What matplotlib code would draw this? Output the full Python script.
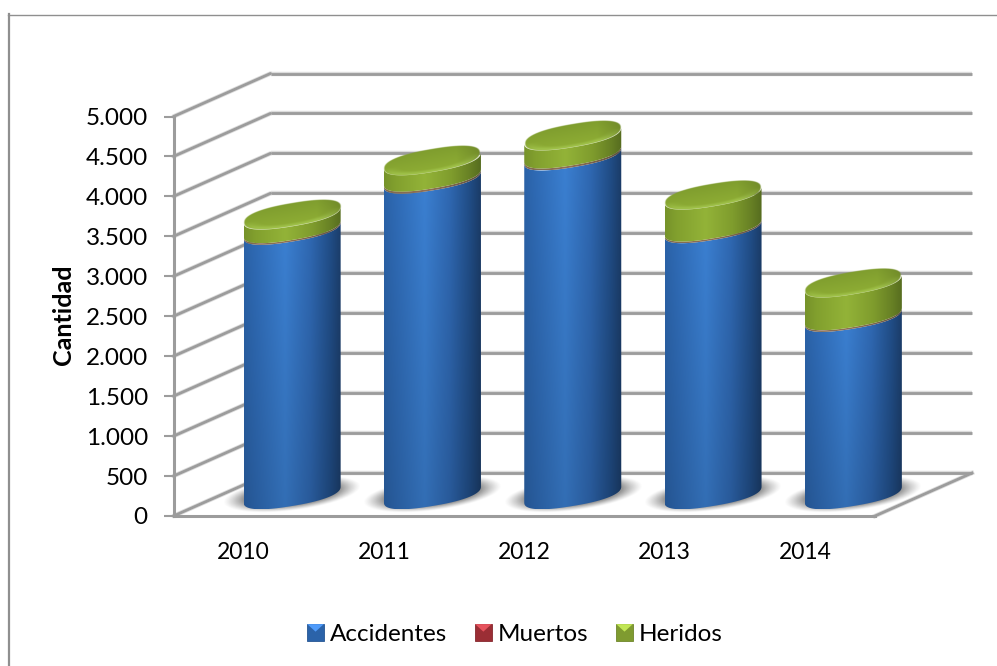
import numpy as np
import matplotlib
matplotlib.use("Agg")
import matplotlib.pyplot as plt
from matplotlib.patches import Polygon, Rectangle, Patch
from matplotlib.colors import LinearSegmentedColormap as LSC, to_rgb
from matplotlib.legend_handler import HandlerBase
from matplotlib.ticker import FuncFormatter, MultipleLocator

# ---- data ----
years = ["2010", "2011", "2012", "2013", "2014"]
accidentes = [3310, 3950, 4240, 3330, 2220]
muertos = [20, 25, 25, 20, 20]
heridos = [170, 205, 225, 400, 410]
series_names = ["Accidentes", "Muertos", "Heridos"]

# ---- style ----
FONT = "Lato"
W, H = 997, 666
GRID = "#9c9c9c"
BLUE = "#2f6cb8"; RED = "#a8323a"; GREEN = "#8aa834"

fig = plt.figure(figsize=(W / 100, H / 100), dpi=100, facecolor="white")
L, R_, T, B = 173.5, 875, 116.5, 516
ax = fig.add_axes([L / W, 1 - B / H, (R_ - L) / W, (B - T) / H], facecolor="none")
XMIN, XMAX, YMAX = -0.5, 4.5, 5000
PX = 5 / (R_ - L)            # category units per pixel
PY = YMAX / (B - T)          # value units per pixel
DX, DY = 97 * PX, 43 * PY    # depth offset of the 3D box

# chart frame (left and top only are visible)
fig.add_artist(plt.Line2D([8.5 / W, 8.5 / W], [0, 1 - 14 / H], color="#8f8f8f", lw=1.6))
fig.add_artist(plt.Line2D([8 / W, 1], [1 - 14.5 / H] * 2, color="#8f8f8f", lw=1.0))

# walls
levels = np.arange(0, YMAX + 1, 500)
for col, lw, z in (("#dcdcdc", 3.2, 1), (GRID, 2.0, 2)):
    for v in levels:
        ax.plot([XMIN + DX, XMAX + DX], [v + DY, v + DY], color=col, lw=lw, clip_on=False,
                solid_capstyle="butt", zorder=z)
        ax.plot([XMIN, XMIN + DX], [v, v + DY], color=col, lw=lw, clip_on=False,
                solid_capstyle="round", zorder=z)
    ax.plot([XMAX, XMAX + DX], [0, DY], color=col, lw=lw, clip_on=False, zorder=z)


def stops(*pairs):
    return LSC.from_list("c", list(pairs))


blue_cm = stops((0, "#2b63a9"), (.12, "#2f6bb6"), (.42, "#3b80d2"), (.68, "#2f68b2"),
                (.88, "#214e88"), (1, "#1b3c68"))
red_cm = stops((0, "#806a50"), (.45, "#8f6f55"), (1, "#5f5040"))
green_cm = stops((0, "#76932a"), (.12, "#82a02e"), (.42, "#93b338"), (.7, "#7f9c2d"),
                 (.9, "#667f24"), (1, "#566c1f"))

A, SX, SY = 48.5, 8.0, 11.5   # ellipse: half width, tilt, half depth (pixels)
NS = 2.4                      # slightly blunt ends, like the reference
ts = np.linspace(np.pi, 2 * np.pi, 120)


def rim(c, v):
    """front half of the cylinder's outline at value v, left to right"""
    cx = np.sign(np.cos(ts)) * np.abs(np.cos(ts)) ** (2 / NS)
    sx = np.sign(np.sin(ts)) * np.abs(np.sin(ts)) ** (2 / NS)
    return c + A * PX * cx, v + (SX * cx + SY * sx) * PY


def side(c, v0, v1, cmap, z, shade):
    x0, y0 = rim(c, v0)
    x1, y1 = rim(c, v1)
    poly = Polygon(np.column_stack([np.r_[x0, x1[::-1]], np.r_[y0, y1[::-1]]]),
                   closed=True, transform=ax.transData, fc="none", ec="none", clip_on=False)
    ax.add_patch(poly)
    u = np.linspace(0, 1, 200)
    rows = 60
    img = cmap(u)[None, :, :3].repeat(rows, axis=0)
    f = np.linspace(shade[0], shade[1], rows)[:, None, None]   # top row first
    img = np.clip(img * f, 0, 1)
    ymin, ymax = y0.min(), y1.max()
    im = ax.imshow(img, extent=[c - A * PX, c + A * PX, ymin, ymax], origin="upper",
                   aspect="auto", zorder=z, interpolation="bilinear")
    im.set_clip_box(fig.bbox)
    im.set_clip_path(poly)


def top_cap(c, v, z):
    n = 260
    xs = np.linspace(-A - 1.5, A + 1.5, n)
    ys = np.linspace(-24, 24, n)
    gx, gy = np.meshgrid(xs, ys)          # gy > 0 is up
    p = gx / A
    s = (gy - SX * p) / SY
    r = (np.abs(p) ** NS + np.abs(s) ** NS) ** (1 / NS)
    base0 = np.array(to_rgb("#7f9d2e"))
    base1 = np.array(to_rgb("#8fae35"))
    t = np.clip((1 - s) / 2, 0, 1)[..., None]
    rgb = base0 * (1 - t) + base1 * t
    # soft bright bevel along the front edge, darker towards the right
    bev = np.clip(1 - np.abs(r - 0.9) / 0.22, 0, 1) * np.clip(-s * 1.5, 0, 1) * .7
    rgb = rgb + bev[..., None] * (np.array([.66, .80, .33]) - rgb)
    dark = np.clip((p - .5) / .5, 0, 1)[..., None] * .15
    rgb = rgb * (1 - dark)
    alpha = np.clip((1 - r) * A / 1.2, 0, 1)
    img = np.dstack([rgb, alpha])
    ax.imshow(img, extent=[c + xs[0] * PX, c + xs[-1] * PX, v + ys[0] * PY, v + ys[-1] * PY],
              origin="lower", aspect="auto", zorder=z, interpolation="bilinear", clip_on=False)


def shadow(c, v, z):
    n = 200
    xs = np.linspace(-85, 85, n)
    ys = np.linspace(-30, 30, n)
    gx, gy = np.meshgrid(xs, ys)
    p = gx / (A * 1.42)
    s = (gy - SX * p) / (SY * 1.45)
    r = np.hypot(p, s)
    alpha = np.clip((1 - r) / .3, 0, 1) ** 1.2 * .68
    img = np.dstack([np.full_like(alpha, .38)] * 3 + [alpha])
    ax.imshow(img, extent=[c + xs[0] * PX, c + xs[-1] * PX, v + ys[0] * PY, v + ys[-1] * PY],
              origin="lower", aspect="auto", zorder=z, interpolation="bilinear", clip_on=False)


for i in range(len(years)):
    c = i + DX / 2
    base = DY / 2
    a, m, h = accidentes[i], muertos[i], heridos[i]
    shadow(c, base, 5)
    side(c, base, base + a, blue_cm, 6, (1.0, .86))
    side(c, base + a, base + a + m, red_cm, 7, (1, 1))
    side(c, base + a + m, base + a + m + h, green_cm, 8, (1.0, 1.0))
    top_cap(c, base + a + m + h, 9)

ax.set_xlim(XMIN, XMAX)
ax.set_ylim(0, YMAX)

# axes
for s_ in ("top", "right"):
    ax.spines[s_].set_visible(False)
for s_ in ("left", "bottom"):
    ax.spines[s_].set_color(GRID)
    ax.spines[s_].set_linewidth(2.2)
    ax.spines[s_].set_zorder(3)
ax.set_xticks(range(len(years)), years, fontsize=16.5, family=FONT, color="black")
ax.yaxis.set_major_locator(MultipleLocator(500))
ax.yaxis.set_major_formatter(FuncFormatter(lambda v, _: f"{int(v):,}".replace(",", ".")))
ax.tick_params(axis="x", length=0, pad=19)
ax.tick_params(axis="y", length=7, width=1.5, color=GRID, pad=11.5, labelsize=17.5,
               labelfontfamily=FONT)
ax.set_ylabel("Cantidad", fontsize=18, family=FONT, fontweight="bold", labelpad=0)
ax.yaxis.set_label_coords((75 - L) / (R_ - L), (B - 315) / (B - T))


# legend with the glossy little keys of the reference
class GlossKey(HandlerBase):
    def create_artists(self, legend, orig, xd, yd, width, height, fontsize, trans):
        col = np.array(orig.get_facecolor()[:3])
        sq = Rectangle((-xd, -yd), width, height, fc=col * .92, ec=col * .8, lw=.6, transform=trans)
        light = np.clip(col * 1.25 + .08, 0, 1)
        tri = Polygon([(-xd, -yd + height), (-xd + width, -yd + height),
                       (-xd + width / 2, -yd + height * .55)],
                      closed=True, fc=light, ec="none", transform=trans)
        return [sq, tri]


handles = [Patch(fc=BLUE, label=series_names[0]), Patch(fc=RED, label=series_names[1]),
           Patch(fc=GREEN, label=series_names[2])]
fig.legend(handles=handles, handler_map={Patch: GlossKey()}, loc="center",
           bbox_to_anchor=(515 / W, 1 - 634.5 / H), ncol=3, frameon=False,
           prop={"family": FONT, "size": 17.5}, handlelength=.68, handleheight=.68,
           handletextpad=.25, columnspacing=1.15, borderpad=0)

fig.savefig("out.png", dpi=100, facecolor="white")
